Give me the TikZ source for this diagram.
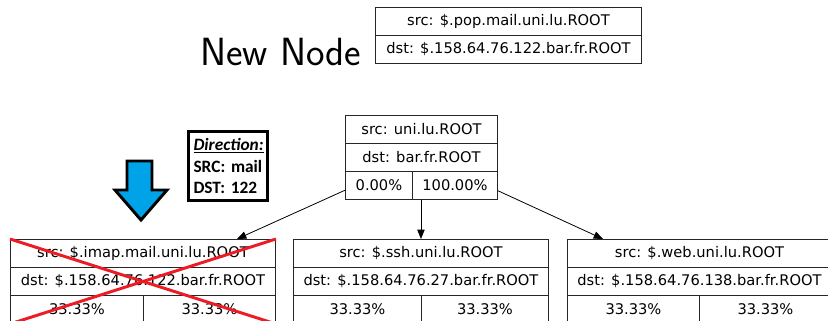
\documentclass[tikz,border=0pt]{standalone}
\usepackage{fontspec}
\newfontfamily\dvfont{DejaVu Sans}
\newfontfamily\carfont{Carlito}
\usetikzlibrary{calc,arrows.meta}
\definecolor{xred}{HTML}{ED1C24}
\definecolor{arrowblue}{HTML}{00A2E8}
\begin{document}
\begin{tikzpicture}[x=0.75pt,y=-0.75pt,
  cell/.style={draw=black!85,line width=0.7pt,anchor=north west,inner sep=0pt,
    minimum height={28*0.75pt},font=\dvfont\fontsize{11}{13}\selectfont},
  edge/.style={-{Triangle[length=7pt,width=5.5pt]},line width=0.6pt},
  crossout/.style={xred,line width=2.2pt},
  dirbox/.style={draw,line width=2.3pt,anchor=north west,align=left,
    text width={69*0.75pt},inner xsep={5*0.75pt},inner ysep=0pt,
    minimum height={69*0.75pt},font=\carfont\bfseries\fontsize{13}{16}\selectfont},
  bigarrow/.style={fill=arrowblue,draw=black,line width=2.2pt,line join=miter}]
\clip (0,0) rectangle (828,321);
\fill[white] (0,0) rectangle (828,321);

% New node
\node[anchor=base west,font=\sffamily\fontsize{29.5}{32}\selectfont,inner sep=0pt] (newlabel) at (200,65) {New Node};
\node[cell,minimum width={266*0.75pt}] (nsrc) at (375,7) {src: \$.pop.mail.uni.lu.ROOT};
\node[cell,minimum width={266*0.75pt}] (ndst) at (375,35) {dst: \$.158.64.76.122.bar.fr.ROOT};

% Root
\node[cell,minimum width={152*0.75pt}] (rsrc) at (345,115) {src: uni.lu.ROOT};
\node[cell,minimum width={152*0.75pt}] (rdst) at (345,143) {dst: bar.fr.ROOT};
\node[cell,minimum width={67*0.75pt}] (rA) at (345,171) {0.00\%};
\node[cell,minimum width={85*0.75pt}] (rB) at (412,171) {100.00\%};

% Left child
\node[cell,minimum width={265*0.75pt}] (lsrc) at (10,239) {src: \$.imap.mail.uni.lu.ROOT};
\node[cell,minimum width={265*0.75pt}] (ldst) at (10,267) {dst: \$.158.64.76.122.bar.fr.ROOT};
\node[cell,minimum width={133*0.75pt}] (lA) at (10,295) {33.33\%};
\node[cell,minimum width={132*0.75pt}] (lB) at (143,295) {33.33\%};

% Middle child
\node[cell,minimum width={255*0.75pt}] (msrc) at (293,239) {src: \$.ssh.uni.lu.ROOT};
\node[cell,minimum width={255*0.75pt}] (mdst) at (293,267) {dst: \$.158.64.76.27.bar.fr.ROOT};
\node[cell,minimum width={128*0.75pt}] (mA) at (293,295) {33.33\%};
\node[cell,minimum width={127*0.75pt}] (mB) at (421,295) {33.33\%};

% Right child
\node[cell,minimum width={264*0.75pt}] (wsrc) at (567,239) {src: \$.web.uni.lu.ROOT};
\node[cell,minimum width={264*0.75pt}] (wdst) at (567,267) {dst: \$.158.64.76.138.bar.fr.ROOT};
\node[cell,minimum width={132*0.75pt}] (wA) at (567,295) {33.33\%};
\node[cell,minimum width={132*0.75pt}] (wB) at (699,295) {33.33\%};

% Edges
\draw[edge] (rA.188) -- ($(lsrc.north west)+(227,0)$);
\draw[edge] (rA.south -| msrc.north) -- (msrc.north);
\draw[edge] (rB.-7) -- ($(wsrc.north west)+(36,0)$);

% Cross-out
\draw[crossout] (lsrc.north west) -- (lB.south east);
\draw[crossout] (lsrc.north east) -- (lA.south west);

% Direction box
\node[dirbox] (dir) at (187,130) {\underline{\itshape Direction:}\\SRC: mail\\DST: 122};

% Blue arrow
\draw[bigarrow] (127,161) -- (152,161) -- (152,190) -- (167,190) -- (141,220) -- (115,190) -- (127,190) -- cycle;
\end{tikzpicture}
\end{document}
